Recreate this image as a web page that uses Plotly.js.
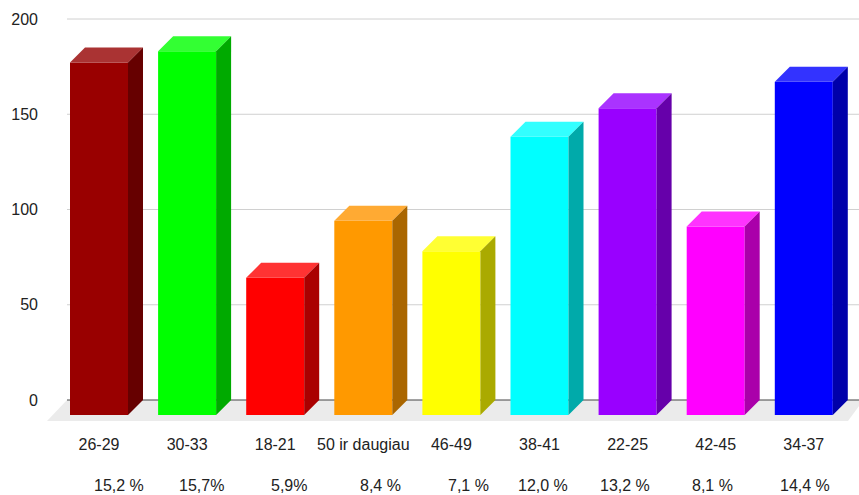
<!DOCTYPE html>
<html>
<head>
<meta charset="utf-8">
<script src="https://cdn.plot.ly/plotly-3.0.1.min.js"></script>
<style>
  html, body { margin: 0; padding: 0; background: #ffffff; }
  #chart { width: 859px; height: 495px; }
</style>
</head>
<body>
<div id="chart"></div>
<script>
// Age groups and respondent counts
const categories = ['26-29', '30-33', '18-21', '50 ir daugiau', '46-49', '38-41', '22-25', '42-45', '34-37'];
const counts = [185, 191, 72, 102, 86, 146, 161, 99, 175];
const percentLabels = ['15,2 %', '15,7%', '5,9%', '8,4 %', '7,1 %', '12,0 %', '13,2 %', '8,1 %', '14,4 %'];
const yTicks = [0, 50, 100, 150, 200];

// Face colours: front, lit top, shaded side
const frontColors = ['#990000', '#00ff00', '#ff0000', '#ff9900', '#ffff00', '#00ffff', '#9900ff', '#ff00ff', '#0000ff'];
const topColors   = ['#aa3333', '#33ff33', '#ff3333', '#ffaa33', '#ffff33', '#33ffff', '#aa33ff', '#ff33ff', '#3333ff'];
const sideColors  = ['#660000', '#00aa00', '#aa0000', '#aa6600', '#aaaa00', '#00aaaa', '#6600aa', '#aa00aa', '#0000aa'];

// Pixel geometry of the pseudo-3D scene
const W = 859, H = 495;
const PLOT_L = 47, PLOT_B = 421;      // plot area left / bottom (px)
const ZERO_PX = 400;                  // back-plane zero line (px)
const PX_PER_UNIT = 1.905;            // vertical scale
const FIRST_PX = 99, SLOT_PX = 88.1;  // first bar centre, bar spacing
const BAR_W_PX = 58, DEPTH_PX = 15;   // front width, bar depth
const BACK_LEFT_PX = 67;              // where the back wall starts

const xRange = [(PLOT_L - FIRST_PX) / SLOT_PX, (W - FIRST_PX) / SLOT_PX];
const yRange = [-(PLOT_B - ZERO_PX) / PX_PER_UNIT, ZERO_PX / PX_PER_UNIT];
const DX = DEPTH_PX / SLOT_PX;
const DY = DEPTH_PX / PX_PER_UNIT;
const HALF = BAR_W_PX / 2 / SLOT_PX;
const xIdx = categories.map((_, i) => i);

const traces = [];

// Front faces
traces.push({
  type: 'bar',
  x: xIdx,
  y: counts,
  base: -DY,
  width: BAR_W_PX / SLOT_PX,
  marker: { color: frontColors, line: { width: 0 } },
  hovertemplate: '%{customdata}: %{y}<extra></extra>',
  customdata: categories,
  showlegend: false
});

// Top and side faces
counts.forEach((v, i) => {
  const l = i - HALF, r = i + HALF;
  traces.push({
    type: 'scatter', mode: 'lines', fill: 'toself',
    x: [l, r, r + DX, l + DX, l],
    y: [v - DY, v - DY, v, v, v - DY],
    fillcolor: topColors[i], line: { width: 0 },
    hoverinfo: 'skip', showlegend: false
  });
  traces.push({
    type: 'scatter', mode: 'lines', fill: 'toself',
    x: [r, r, r + DX, r + DX, r],
    y: [-DY, v - DY, v, 0, -DY],
    fillcolor: sideColors[i], line: { width: 0 },
    hoverinfo: 'skip', showlegend: false
  });
});

// Floor, grid lines and zero line on the back wall
const backLeft = (BACK_LEFT_PX - FIRST_PX) / SLOT_PX;
const frontRight = (848 - FIRST_PX) / SLOT_PX;
const shapes = [{
  type: 'path', xref: 'x', yref: 'y', layer: 'below',
  path: `M ${backLeft},0 L ${xRange[1] + 0.05},0 L ${frontRight},${yRange[0]} L ${xRange[0]},${yRange[0]} Z`,
  fillcolor: '#ebebeb', line: { width: 0 }
}];
yTicks.forEach(t => {
  shapes.push({
    type: 'line', xref: 'x', yref: 'y', layer: 'below',
    x0: backLeft, x1: xRange[1] + 0.05, y0: t, y1: t,
    line: { color: t === 0 ? '#444444' : '#d0d0d0', width: 1 }
  });
});

// Percentage row under the category labels
const pctLeftPx = [92, 177, 269, 358, 446, 516, 598, 690, 778];
const plotW = W - PLOT_L;
const annotations = percentLabels.map((txt, i) => ({
  text: txt,
  xref: 'paper', yref: 'paper',
  x: (pctLeftPx[i] - PLOT_L) / plotW,
  y: (PLOT_B - 485) / PLOT_B,
  xanchor: 'left', yanchor: 'middle',
  showarrow: false,
  font: { family: 'Liberation Sans, Arial, sans-serif', size: 16, color: '#222222' }
}));

const layout = {
  width: W, height: H,
  margin: { l: PLOT_L, r: 0, t: 0, b: H - PLOT_B, pad: 0 },
  paper_bgcolor: '#ffffff',
  plot_bgcolor: 'rgba(0,0,0,0)',
  font: { family: 'Liberation Sans, Arial, sans-serif', size: 16, color: '#222222' },
  showlegend: false,
  xaxis: {
    range: xRange,
    tickvals: xIdx,
    ticktext: categories,
    showgrid: false, zeroline: false, showline: false,
    ticks: '', ticklabelstandoff: 12,
    fixedrange: true
  },
  yaxis: {
    range: yRange,
    tickvals: yTicks,
    showgrid: false, zeroline: false, showline: false,
    ticks: '', ticklabelstandoff: 8,
    fixedrange: true
  },
  shapes: shapes,
  annotations: annotations
};

Plotly.newPlot('chart', traces, layout, { displayModeBar: false, staticPlot: false });
</script>
</body>
</html>
